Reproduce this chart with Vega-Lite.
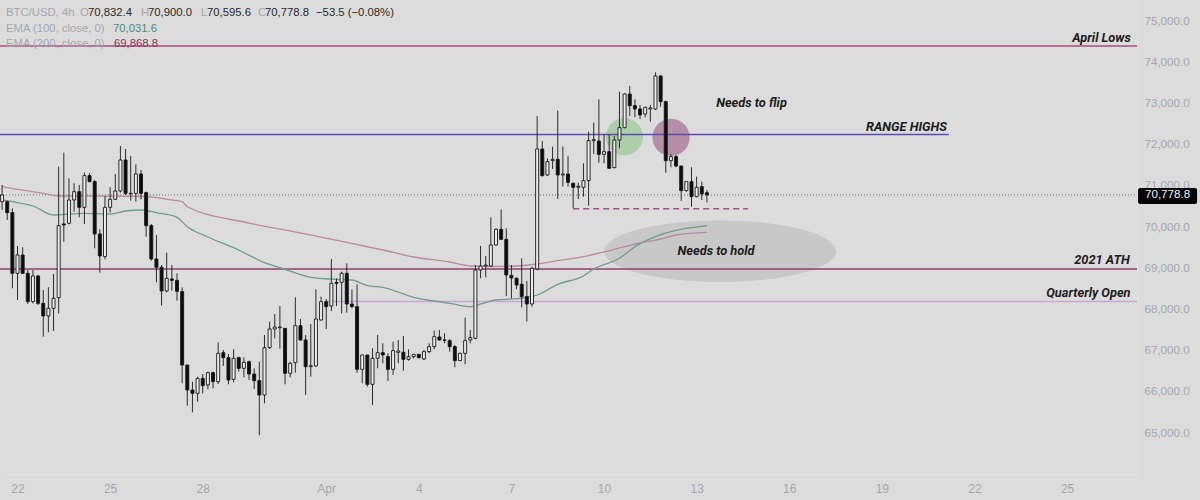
{
  "$schema": "https://vega.github.io/schema/vega-lite/v6.json",
  "width": 1137,
  "height": 475,
  "autosize": {"type": "none"},
  "padding": {"left": 0, "top": 0, "right": 63, "bottom": 25},
  "background": "#dcdcdc",
  "datasets": {
    "candles": [
      {"t":"2024-03-21T12:00Z","o":70616,"h":71020,"l":70413,"c":70777},
      {"t":"2024-03-21T16:00Z","o":70616,"h":70640,"l":70171,"c":70349},
      {"t":"2024-03-21T20:00Z","o":70349,"h":70454,"l":68512,"c":68876},
      {"t":"2024-03-22T00:00Z","o":68876,"h":69540,"l":68229,"c":69321},
      {"t":"2024-03-22T04:00Z","o":69321,"h":69507,"l":68860,"c":68876},
      {"t":"2024-03-22T08:00Z","o":68876,"h":68957,"l":68132,"c":68189},
      {"t":"2024-03-22T12:00Z","o":68189,"h":68957,"l":68148,"c":68812},
      {"t":"2024-03-22T16:00Z","o":68812,"h":68836,"l":68108,"c":68148},
      {"t":"2024-03-22T20:00Z","o":68148,"h":68472,"l":67339,"c":67841},
      {"t":"2024-03-23T00:00Z","o":67841,"h":68537,"l":67444,"c":68027},
      {"t":"2024-03-23T04:00Z","o":68027,"h":68860,"l":67477,"c":68270},
      {"t":"2024-03-23T08:00Z","o":68286,"h":71465,"l":67906,"c":70033},
      {"t":"2024-03-23T12:00Z","o":70074,"h":71805,"l":69645,"c":70049},
      {"t":"2024-03-23T16:00Z","o":70090,"h":71182,"l":70066,"c":70656},
      {"t":"2024-03-23T20:00Z","o":70656,"h":71061,"l":70373,"c":70858},
      {"t":"2024-03-24T00:00Z","o":70858,"h":71020,"l":70235,"c":70478},
      {"t":"2024-03-24T04:00Z","o":70478,"h":71319,"l":70074,"c":71247},
      {"t":"2024-03-24T08:00Z","o":71247,"h":71303,"l":71085,"c":71101},
      {"t":"2024-03-24T12:00Z","o":71101,"h":71142,"l":69483,"c":69831},
      {"t":"2024-03-24T16:00Z","o":69831,"h":69944,"l":68892,"c":69297},
      {"t":"2024-03-24T20:00Z","o":69281,"h":70753,"l":69216,"c":70478},
      {"t":"2024-03-25T00:00Z","o":70478,"h":70964,"l":70357,"c":70672},
      {"t":"2024-03-25T04:00Z","o":70672,"h":71287,"l":70656,"c":70875},
      {"t":"2024-03-25T08:00Z","o":70875,"h":71967,"l":70834,"c":71627},
      {"t":"2024-03-25T12:00Z","o":71627,"h":71894,"l":70777,"c":70818},
      {"t":"2024-03-25T16:00Z","o":70818,"h":71724,"l":70640,"c":70810},
      {"t":"2024-03-25T20:00Z","o":70818,"h":71522,"l":70616,"c":71287},
      {"t":"2024-03-26T00:00Z","o":71287,"h":71384,"l":70672,"c":70818},
      {"t":"2024-03-26T04:00Z","o":70834,"h":70858,"l":69766,"c":70033},
      {"t":"2024-03-26T08:00Z","o":70033,"h":70074,"l":69184,"c":69224},
      {"t":"2024-03-26T12:00Z","o":69224,"h":69807,"l":68658,"c":69022},
      {"t":"2024-03-26T16:00Z","o":69022,"h":69079,"l":68092,"c":68448},
      {"t":"2024-03-26T20:00Z","o":68448,"h":69378,"l":68415,"c":68755},
      {"t":"2024-03-27T00:00Z","o":68739,"h":69079,"l":68456,"c":68706},
      {"t":"2024-03-27T04:00Z","o":68706,"h":68876,"l":68213,"c":68440},
      {"t":"2024-03-27T08:00Z","o":68431,"h":68536,"l":66206,"c":66651},
      {"t":"2024-03-27T12:00Z","o":66651,"h":66651,"l":65664,"c":66044},
      {"t":"2024-03-27T16:00Z","o":66044,"h":66246,"l":65502,"c":65963},
      {"t":"2024-03-27T20:00Z","o":65963,"h":66368,"l":65761,"c":66327},
      {"t":"2024-03-28T00:00Z","o":66327,"h":66432,"l":65963,"c":66149},
      {"t":"2024-03-28T04:00Z","o":66166,"h":66489,"l":66060,"c":66465},
      {"t":"2024-03-28T08:00Z","o":66465,"h":66489,"l":66085,"c":66246},
      {"t":"2024-03-28T12:00Z","o":66246,"h":67201,"l":66190,"c":66934},
      {"t":"2024-03-28T16:00Z","o":66950,"h":67015,"l":66627,"c":66829},
      {"t":"2024-03-28T20:00Z","o":66829,"h":66918,"l":66182,"c":66287},
      {"t":"2024-03-29T00:00Z","o":66303,"h":67031,"l":66230,"c":66813},
      {"t":"2024-03-29T04:00Z","o":66829,"h":66853,"l":66489,"c":66570},
      {"t":"2024-03-29T08:00Z","o":66570,"h":66837,"l":66352,"c":66716},
      {"t":"2024-03-29T12:00Z","o":66732,"h":66756,"l":66287,"c":66432},
      {"t":"2024-03-29T16:00Z","o":66432,"h":66570,"l":66068,"c":66271},
      {"t":"2024-03-29T20:00Z","o":66271,"h":66732,"l":64944,"c":65923},
      {"t":"2024-03-30T00:00Z","o":65923,"h":67379,"l":65721,"c":67072},
      {"t":"2024-03-30T04:00Z","o":67072,"h":67703,"l":67039,"c":67525},
      {"t":"2024-03-30T08:00Z","o":67525,"h":67889,"l":67298,"c":67573},
      {"t":"2024-03-30T12:00Z","o":67557,"h":68083,"l":67047,"c":67573},
      {"t":"2024-03-30T16:00Z","o":67541,"h":67541,"l":66182,"c":66449},
      {"t":"2024-03-30T20:00Z","o":66449,"h":66732,"l":66352,"c":66691},
      {"t":"2024-03-31T00:00Z","o":66708,"h":68293,"l":66465,"c":67606},
      {"t":"2024-03-31T04:00Z","o":67606,"h":67767,"l":67241,"c":67258},
      {"t":"2024-03-31T08:00Z","o":67258,"h":67379,"l":65923,"c":66610},
      {"t":"2024-03-31T12:00Z","o":66610,"h":67646,"l":66368,"c":66635},
      {"t":"2024-03-31T16:00Z","o":66627,"h":68487,"l":66610,"c":67767},
      {"t":"2024-03-31T20:00Z","o":67743,"h":68309,"l":67727,"c":68188},
      {"t":"2024-04-01T00:00Z","o":68188,"h":68253,"l":67525,"c":68067},
      {"t":"2024-04-01T04:00Z","o":68083,"h":69224,"l":67961,"c":68633},
      {"t":"2024-04-01T08:00Z","o":68657,"h":68754,"l":68083,"c":68633},
      {"t":"2024-04-01T12:00Z","o":68657,"h":68916,"l":67905,"c":68876},
      {"t":"2024-04-01T16:00Z","o":68876,"h":69118,"l":67921,"c":68131},
      {"t":"2024-04-01T20:00Z","o":68131,"h":68487,"l":68026,"c":68067},
      {"t":"2024-04-02T00:00Z","o":68067,"h":68609,"l":66465,"c":66546},
      {"t":"2024-04-02T04:00Z","o":66546,"h":66894,"l":66206,"c":66894},
      {"t":"2024-04-02T08:00Z","o":66894,"h":66894,"l":66125,"c":66182},
      {"t":"2024-04-02T12:00Z","o":66182,"h":67056,"l":65681,"c":66813},
      {"t":"2024-04-02T16:00Z","o":66813,"h":67380,"l":66570,"c":66951},
      {"t":"2024-04-02T20:00Z","o":66951,"h":67177,"l":66692,"c":66894},
      {"t":"2024-04-03T00:00Z","o":66854,"h":66935,"l":66263,"c":66546},
      {"t":"2024-04-03T04:00Z","o":66546,"h":67218,"l":66409,"c":67000},
      {"t":"2024-04-03T08:00Z","o":66959,"h":67258,"l":66692,"c":66991},
      {"t":"2024-04-03T12:00Z","o":66959,"h":67355,"l":66514,"c":66789},
      {"t":"2024-04-03T16:00Z","o":66789,"h":67032,"l":66757,"c":66854},
      {"t":"2024-04-03T20:00Z","o":66854,"h":66918,"l":66813,"c":66910},
      {"t":"2024-04-04T00:00Z","o":66910,"h":66918,"l":66813,"c":66829},
      {"t":"2024-04-04T04:00Z","o":66797,"h":67015,"l":66773,"c":66975},
      {"t":"2024-04-04T08:00Z","o":66975,"h":67177,"l":66935,"c":67096},
      {"t":"2024-04-04T12:00Z","o":67096,"h":67485,"l":67032,"c":67339},
      {"t":"2024-04-04T16:00Z","o":67331,"h":67501,"l":67242,"c":67258},
      {"t":"2024-04-04T20:00Z","o":67258,"h":67420,"l":67177,"c":67250},
      {"t":"2024-04-05T00:00Z","o":67242,"h":67274,"l":66975,"c":67096},
      {"t":"2024-04-05T04:00Z","o":67096,"h":67137,"l":66595,"c":66757},
      {"t":"2024-04-05T08:00Z","o":66757,"h":66951,"l":66749,"c":66935},
      {"t":"2024-04-05T12:00Z","o":66935,"h":67800,"l":66668,"c":67242},
      {"t":"2024-04-05T16:00Z","o":67258,"h":67501,"l":67177,"c":67315},
      {"t":"2024-04-05T20:00Z","o":67299,"h":69078,"l":67274,"c":68957},
      {"t":"2024-04-06T00:00Z","o":68957,"h":69540,"l":68755,"c":69054},
      {"t":"2024-04-06T04:00Z","o":69054,"h":69297,"l":68779,"c":69078},
      {"t":"2024-04-06T08:00Z","o":69054,"h":70235,"l":69038,"c":69564},
      {"t":"2024-04-06T12:00Z","o":69564,"h":69968,"l":69548,"c":69944},
      {"t":"2024-04-06T16:00Z","o":69944,"h":70429,"l":69685,"c":69701},
      {"t":"2024-04-06T20:00Z","o":69701,"h":69968,"l":68326,"c":68836},
      {"t":"2024-04-07T00:00Z","o":68828,"h":69078,"l":68269,"c":68763},
      {"t":"2024-04-07T04:00Z","o":68755,"h":68779,"l":68488,"c":68593},
      {"t":"2024-04-07T08:00Z","o":68609,"h":69240,"l":68051,"c":68310},
      {"t":"2024-04-07T12:00Z","o":68310,"h":68690,"l":67703,"c":68132},
      {"t":"2024-04-07T16:00Z","o":68132,"h":69038,"l":68067,"c":68998},
      {"t":"2024-04-07T20:00Z","o":68981,"h":72695,"l":68950,"c":71894},
      {"t":"2024-04-08T00:00Z","o":71894,"h":72088,"l":71222,"c":71247},
      {"t":"2024-04-08T04:00Z","o":71263,"h":71667,"l":71239,"c":71587},
      {"t":"2024-04-08T08:00Z","o":71611,"h":71951,"l":71409,"c":71643},
      {"t":"2024-04-08T12:00Z","o":71643,"h":72824,"l":70680,"c":71263},
      {"t":"2024-04-08T16:00Z","o":71263,"h":71951,"l":70980,"c":71287},
      {"t":"2024-04-08T20:00Z","o":71287,"h":71724,"l":70980,"c":71085},
      {"t":"2024-04-09T00:00Z","o":71061,"h":71077,"l":70454,"c":70964},
      {"t":"2024-04-09T04:00Z","o":70964,"h":71077,"l":70680,"c":70988},
      {"t":"2024-04-09T08:00Z","o":70964,"h":71546,"l":70737,"c":71125},
      {"t":"2024-04-09T12:00Z","o":71125,"h":72315,"l":70519,"c":72096},
      {"t":"2024-04-09T16:00Z","o":72096,"h":72533,"l":71773,"c":72120},
      {"t":"2024-04-09T20:00Z","o":72088,"h":73099,"l":71562,"c":71764},
      {"t":"2024-04-10T00:00Z","o":71764,"h":72258,"l":71546,"c":71829},
      {"t":"2024-04-10T04:00Z","o":71829,"h":72234,"l":71409,"c":71425},
      {"t":"2024-04-10T08:00Z","o":71441,"h":72209,"l":71425,"c":72112},
      {"t":"2024-04-10T12:00Z","o":72112,"h":73285,"l":71910,"c":72412},
      {"t":"2024-04-10T16:00Z","o":72412,"h":73245,"l":72396,"c":73229},
      {"t":"2024-04-10T20:00Z","o":73229,"h":73423,"l":72695,"c":72946},
      {"t":"2024-04-11T00:00Z","o":72946,"h":73099,"l":72663,"c":72865},
      {"t":"2024-04-11T04:00Z","o":72865,"h":72962,"l":72622,"c":72719},
      {"t":"2024-04-11T08:00Z","o":72743,"h":72921,"l":72663,"c":72905},
      {"t":"2024-04-11T12:00Z","o":72865,"h":72962,"l":72557,"c":72889},
      {"t":"2024-04-11T16:00Z","o":72865,"h":73755,"l":72841,"c":73666},
      {"t":"2024-04-11T20:00Z","o":73666,"h":73690,"l":72921,"c":73043},
      {"t":"2024-04-12T00:00Z","o":73043,"h":73067,"l":71320,"c":71611},
      {"t":"2024-04-12T04:00Z","o":71611,"h":71773,"l":71449,"c":71708},
      {"t":"2024-04-12T08:00Z","o":71708,"h":71748,"l":71449,"c":71481},
      {"t":"2024-04-12T12:00Z","o":71481,"h":71481,"l":70632,"c":70883},
      {"t":"2024-04-12T16:00Z","o":70883,"h":71101,"l":70858,"c":71101},
      {"t":"2024-04-12T20:00Z","o":71101,"h":71449,"l":70494,"c":70737},
      {"t":"2024-04-13T00:00Z","o":70737,"h":71222,"l":70721,"c":70964},
      {"t":"2024-04-13T04:00Z","o":70980,"h":71101,"l":70656,"c":70802},
      {"t":"2024-04-13T08:00Z","o":70832.4,"h":70900,"l":70595.6,"c":70778.8}
    ],
    "emas": [
      {"s":"EMA 200","t":"2024-03-21T12:00Z","v":70978},
      {"s":"EMA 200","t":"2024-03-22T00:00Z","v":70915},
      {"s":"EMA 200","t":"2024-03-22T20:00Z","v":70818},
      {"s":"EMA 200","t":"2024-03-23T08:00Z","v":70753},
      {"s":"EMA 200","t":"2024-03-24T16:00Z","v":70753},
      {"s":"EMA 200","t":"2024-03-26T04:00Z","v":70736},
      {"s":"EMA 200","t":"2024-03-26T20:00Z","v":70673},
      {"s":"EMA 200","t":"2024-03-27T08:00Z","v":70614},
      {"s":"EMA 200","t":"2024-03-27T12:00Z","v":70493},
      {"s":"EMA 200","t":"2024-03-29T12:00Z","v":70097},
      {"s":"EMA 200","t":"2024-03-31T04:00Z","v":69855},
      {"s":"EMA 200","t":"2024-04-01T16:00Z","v":69629},
      {"s":"EMA 200","t":"2024-04-02T20:00Z","v":69442},
      {"s":"EMA 200","t":"2024-04-03T20:00Z","v":69272},
      {"s":"EMA 200","t":"2024-04-05T00:00Z","v":69151},
      {"s":"EMA 200","t":"2024-04-05T16:00Z","v":69054},
      {"s":"EMA 200","t":"2024-04-06T08:00Z","v":69042},
      {"s":"EMA 200","t":"2024-04-07T04:00Z","v":69054},
      {"s":"EMA 200","t":"2024-04-07T20:00Z","v":69102},
      {"s":"EMA 200","t":"2024-04-08T12:00Z","v":69182},
      {"s":"EMA 200","t":"2024-04-09T08:00Z","v":69280},
      {"s":"EMA 200","t":"2024-04-10T00:00Z","v":69394},
      {"s":"EMA 200","t":"2024-04-10T12:00Z","v":69491},
      {"s":"EMA 200","t":"2024-04-11T04:00Z","v":69612},
      {"s":"EMA 200","t":"2024-04-11T20:00Z","v":69709},
      {"s":"EMA 200","t":"2024-04-12T08:00Z","v":69806},
      {"s":"EMA 200","t":"2024-04-13T08:00Z","v":69868.8},
      {"s":"EMA 100","t":"2024-03-21T12:00Z","v":70656},
      {"s":"EMA 100","t":"2024-03-21T20:00Z","v":70614},
      {"s":"EMA 100","t":"2024-03-22T12:00Z","v":70510},
      {"s":"EMA 100","t":"2024-03-23T04:00Z","v":70292},
      {"s":"EMA 100","t":"2024-03-24T04:00Z","v":70333},
      {"s":"EMA 100","t":"2024-03-25T00:00Z","v":70316},
      {"s":"EMA 100","t":"2024-03-25T12:00Z","v":70389},
      {"s":"EMA 100","t":"2024-03-26T00:00Z","v":70413},
      {"s":"EMA 100","t":"2024-03-26T12:00Z","v":70347},
      {"s":"EMA 100","t":"2024-03-27T04:00Z","v":70236},
      {"s":"EMA 100","t":"2024-03-27T12:00Z","v":70008},
      {"s":"EMA 100","t":"2024-03-28T04:00Z","v":69758},
      {"s":"EMA 100","t":"2024-03-29T04:00Z","v":69442},
      {"s":"EMA 100","t":"2024-03-30T00:00Z","v":69134},
      {"s":"EMA 100","t":"2024-03-30T16:00Z","v":68974},
      {"s":"EMA 100","t":"2024-03-31T12:00Z","v":68780},
      {"s":"EMA 100","t":"2024-04-01T08:00Z","v":68731},
      {"s":"EMA 100","t":"2024-04-01T20:00Z","v":68714},
      {"s":"EMA 100","t":"2024-04-02T08:00Z","v":68576},
      {"s":"EMA 100","t":"2024-04-02T20:00Z","v":68537},
      {"s":"EMA 100","t":"2024-04-03T20:00Z","v":68294},
      {"s":"EMA 100","t":"2024-04-05T00:00Z","v":68149},
      {"s":"EMA 100","t":"2024-04-05T16:00Z","v":68066},
      {"s":"EMA 100","t":"2024-04-06T00:00Z","v":68132},
      {"s":"EMA 100","t":"2024-04-06T12:00Z","v":68229},
      {"s":"EMA 100","t":"2024-04-07T04:00Z","v":68260},
      {"s":"EMA 100","t":"2024-04-07T20:00Z","v":68350},
      {"s":"EMA 100","t":"2024-04-08T12:00Z","v":68610},
      {"s":"EMA 100","t":"2024-04-09T08:00Z","v":68811},
      {"s":"EMA 100","t":"2024-04-09T16:00Z","v":68981},
      {"s":"EMA 100","t":"2024-04-10T12:00Z","v":69241},
      {"s":"EMA 100","t":"2024-04-11T00:00Z","v":69522},
      {"s":"EMA 100","t":"2024-04-11T16:00Z","v":69765},
      {"s":"EMA 100","t":"2024-04-12T04:00Z","v":69886},
      {"s":"EMA 100","t":"2024-04-13T08:00Z","v":70031.6}
    ],
    "levels": [
      {"name":"April Lows","price":74393,"from":"2024-03-21T10:23Z","to":"2024-04-27T06:22Z"},
      {"name":"RANGE HIGHS","price":72245,"from":"2024-03-21T10:23Z","to":"2024-04-21T04:00Z"},
      {"name":"2021 ATH","price":68981,"from":"2024-03-21T10:23Z","to":"2024-04-27T06:22Z"},
      {"name":"Quarterly Open","price":68192,"from":"2024-04-01T00:00Z","to":"2024-04-27T06:22Z"}
    ],
    "notes": [
      {"text":"April Lows","t":"2024-04-26T02:45Z","price":74587},
      {"text":"RANGE HIGHS","t":"2024-04-19T19:10Z","price":72427},
      {"text":"2021 ATH","t":"2024-04-26T03:10Z","price":69199},
      {"text":"Quarterly Open","t":"2024-04-25T16:35Z","price":68399},
      {"text":"Needs to flip","t":"2024-04-14T18:40Z","price":73010},
      {"text":"Needs to hold","t":"2024-04-13T15:05Z","price":69418}
    ],
    "header": [
      {"text":"BTC/USD, 4h","role":"key","t":"2024-03-21T15:04Z","price":75194},
      {"text":"O","role":"key","t":"2024-03-24T00:36Z","price":75194},
      {"text":"70,832.4","role":"value","t":"2024-03-24T06:49Z","price":75194},
      {"text":"H","role":"key","t":"2024-03-26T00:01Z","price":75194},
      {"text":"70,900.0","role":"value","t":"2024-03-26T05:28Z","price":75194},
      {"text":"L","role":"key","t":"2024-03-27T22:40Z","price":75194},
      {"text":"70,595.6","role":"value","t":"2024-03-28T03:20Z","price":75194},
      {"text":"C","role":"key","t":"2024-03-29T19:00Z","price":75194},
      {"text":"70,778.8","role":"value","t":"2024-03-30T00:26Z","price":75194},
      {"text":"−53.5 (−0.08%)","role":"value","t":"2024-03-31T16:05Z","price":75194},
      {"text":"EMA (100, close, 0)","role":"key","t":"2024-03-21T15:04Z","price":74806},
      {"text":"70,031.6","role":"ema100","t":"2024-03-25T02:15Z","price":74806},
      {"text":"EMA (200, close, 0)","role":"key","t":"2024-03-21T15:04Z","price":74442},
      {"text":"69,868.8","role":"ema200","t":"2024-03-25T03:02Z","price":74442}
    ]
  },
  "encoding": {
    "x": {
      "field": "t",
      "type": "temporal",
      "title": null,
      "scale": {"type": "utc", "domain": ["2024-03-21T10:23Z", "2024-04-27T06:22Z"], "padding": 0},
      "axis": {
        "values": ["2024-03-22T00:00Z", "2024-03-25T00:00Z", "2024-03-28T00:00Z", "2024-04-01T00:00Z", "2024-04-04T00:00Z", "2024-04-07T00:00Z", "2024-04-10T00:00Z", "2024-04-13T00:00Z", "2024-04-16T00:00Z", "2024-04-19T00:00Z", "2024-04-22T00:00Z", "2024-04-25T00:00Z"],
        "labelExpr": "utcdate(datum.value) == 1 ? 'Apr' : utcdate(datum.value)",
        "grid": false,
        "ticks": false,
        "domainColor": "#e3e3e3",
        "labelColor": "#a6a6ae",
        "labelFont": "Liberation Sans",
        "labelFontSize": 12,
        "labelPadding": 8
      }
    },
    "y": {
      "type": "quantitative",
      "title": null,
      "scale": {"domain": [63981, 75510], "nice": false, "zero": false},
      "axis": {
        "orient": "right",
        "values": [65000, 66000, 67000, 68000, 69000, 70000, 71000, 72000, 73000, 74000, 75000],
        "format": ",.1f",
        "grid": false,
        "ticks": false,
        "domainColor": "#e3e3e3",
        "labelColor": "#a6a6ae",
        "labelFont": "Liberation Sans",
        "labelFontSize": 11.6,
        "labelPadding": 7
      }
    }
  },
  "layer": [
    {
      "data": {"values": [{"t": "2024-04-13T18:14Z", "price": 69411}]},
      "mark": {"type": "point", "shape": "M-1,0 A1,0.265 0 1,1 1,0 A1,0.265 0 1,1 -1,0 Z", "size": 53824, "filled": true, "fill": "#c8c8c8", "opacity": 1},
      "encoding": {"y": {"field": "price"}}
    },
    {
      "data": {"values": [
        {"zone": "flipped", "t": "2024-04-10T15:50Z", "price": 72192},
        {"zone": "rejected", "t": "2024-04-12T04:05Z", "price": 72177}
      ]},
      "mark": {"type": "circle", "size": 1385, "opacity": 1},
      "encoding": {
        "y": {"field": "price"},
        "color": {"field": "zone", "legend": null, "scale": {"domain": ["flipped", "rejected"], "range": ["#aeceaa", "#b58ea8"]}}
      }
    },
    {
      "data": {"name": "levels"},
      "mark": {"type": "rule", "strokeWidth": 1.4},
      "encoding": {
        "x": {"field": "from"},
        "x2": {"field": "to"},
        "y": {"field": "price"},
        "color": {"field": "name", "legend": null, "scale": {"domain": ["April Lows", "RANGE HIGHS", "2021 ATH", "Quarterly Open"], "range": ["#a5507f", "#5b49b5", "#8f3f6c", "#c9a6d6"]}}
      }
    },
    {
      "data": {"values": [{"price": 70778.8, "from": "2024-03-21T10:23Z", "to": "2024-04-27T06:22Z"}]},
      "mark": {"type": "rule", "strokeWidth": 1, "strokeDash": [1, 2], "color": "#6a6a6a"},
      "encoding": {"x": {"field": "from"}, "x2": {"field": "to"}, "y": {"field": "price"}}
    },
    {
      "data": {"values": [{"price": 70445, "from": "2024-04-09T00:00Z", "to": "2024-04-14T16:00Z"}]},
      "mark": {"type": "rule", "strokeWidth": 1.4, "strokeDash": [6, 4], "color": "#a5507f"},
      "encoding": {"x": {"field": "from"}, "x2": {"field": "to"}, "y": {"field": "price"}}
    },
    {
      "data": {"name": "emas"},
      "mark": {"type": "line", "strokeWidth": 1.3, "interpolate": "monotone"},
      "encoding": {
        "y": {"field": "v"},
        "color": {"field": "s", "legend": null, "scale": {"domain": ["EMA 100", "EMA 200"], "range": ["#6f9c8d", "#b98aa3"]}}
      }
    },
    {
      "data": {"name": "candles"},
      "mark": {"type": "rule", "strokeWidth": 1, "color": "#2c2c2c"},
      "encoding": {"y": {"field": "l"}, "y2": {"field": "h"}}
    },
    {
      "data": {"name": "candles"},
      "mark": {"type": "bar", "width": 3, "stroke": "#161616", "strokeWidth": 0.9},
      "encoding": {
        "y": {"field": "o"},
        "y2": {"field": "c"},
        "fill": {"condition": {"test": "datum.c >= datum.o", "value": "#ededed"}, "value": "#0c0c0c"}
      }
    },
    {
      "data": {"name": "notes"},
      "mark": {"type": "text", "font": "Roboto", "fontWeight": "bold", "fontStyle": "italic", "fontSize": 12.8, "color": "#1c1c1c", "align": "center", "baseline": "middle"},
      "encoding": {"y": {"field": "price"}, "text": {"field": "text"}}
    },
    {
      "data": {"name": "header"},
      "mark": {"type": "text", "font": "Liberation Sans", "fontSize": 11.3, "align": "left", "baseline": "middle"},
      "encoding": {
        "y": {"field": "price"},
        "text": {"field": "text"},
        "color": {"field": "role", "legend": null, "scale": {"domain": ["key", "value", "ema100", "ema200"], "range": ["#a6a6ae", "#2a2a2a", "#4f8a78", "#8f2f62"]}}
      }
    },
    {
      "data": {"values": [{"from": "2024-04-27T07:12Z", "to": "2024-04-29T05:04Z", "top": 70947, "bottom": 70559}]},
      "mark": {"type": "rect", "color": "#050505", "cornerRadius": 2},
      "encoding": {"x": {"field": "from"}, "x2": {"field": "to"}, "y": {"field": "top"}, "y2": {"field": "bottom"}}
    },
    {
      "data": {"values": [{"t": "2024-04-28T06:08Z", "price": 70778.8}]},
      "mark": {"type": "text", "font": "Liberation Sans", "fontSize": 11.6, "color": "#f2f2f2", "align": "center", "baseline": "middle"},
      "encoding": {"y": {"field": "price"}, "text": {"field": "price", "format": ",.1f"}}
    }
  ],
  "resolve": {"scale": {"color": "independent"}},
  "config": {"view": {"stroke": null}}
}
